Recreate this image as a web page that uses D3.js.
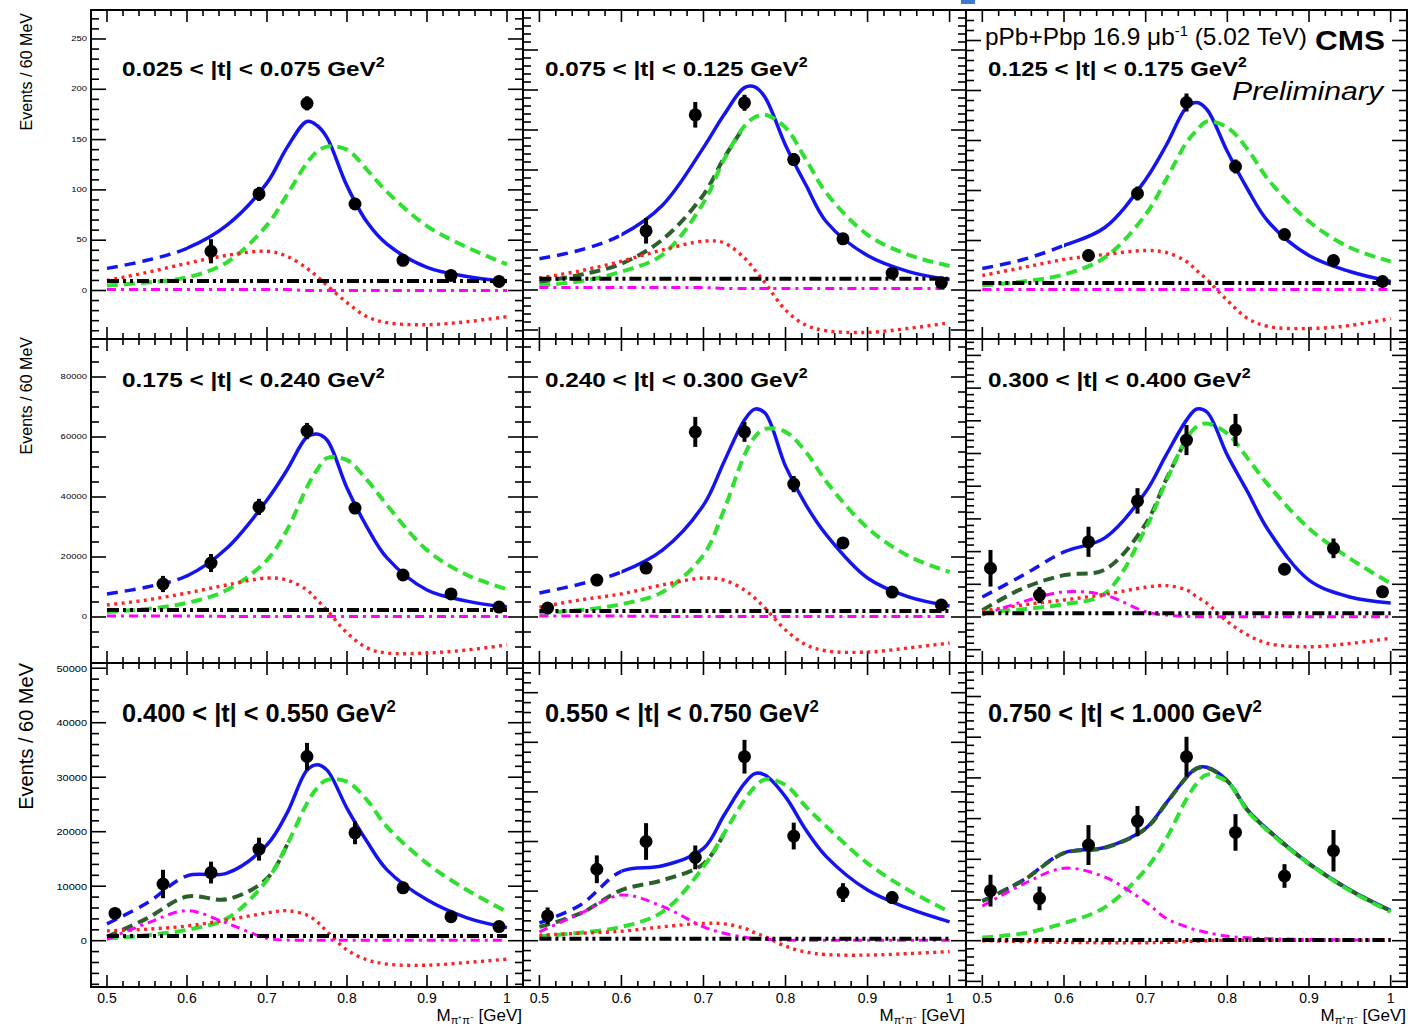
<!DOCTYPE html>
<html>
<head>
<meta charset="utf-8">
<script src="https://cdn.jsdelivr.net/npm/d3@7"></script>
<style>
  body { margin: 0; background: #fff; }
  svg { display: block; }
  text { font-family: "Liberation Sans", Arial, Helvetica, sans-serif; fill: #000; }
</style>
</head>
<body>
<svg id="chart" width="1408" height="1030"></svg>
<script>
// ---- data -------------------------------------------------------------
// Dipion mass bin centres (60 MeV bins) and the mass points at which the fit curves are sampled
const binCenters = [0.51, 0.57, 0.63, 0.69, 0.75, 0.81, 0.87, 0.93, 0.99];
const massGrid = [0.50, 0.55, 0.60, 0.65, 0.70, 0.725, 0.75, 0.7625, 0.775, 0.80, 0.825, 0.85, 0.90, 0.95, 1.00];

const tRanges = [
  "0.025 < |t| < 0.075", "0.075 < |t| < 0.125", "0.125 < |t| < 0.175",
  "0.175 < |t| < 0.240", "0.240 < |t| < 0.300", "0.300 < |t| < 0.400",
  "0.400 < |t| < 0.550", "0.550 < |t| < 0.750", "0.750 < |t| < 1.000"
];

// Events per 60 MeV bin, one row per |t| bin
const events = [
  [null, null, 39, 96, 186, 86, 30, 15, 9],
  [null, null, 74, 219, 234, 163, 64, 21, 9],
  [null, null, 35, 97, 188, 124, 56, 30, 9],
  [null, 11000, 18000, 36700, 62000, 36300, 14000, 7700, 3300],
  [3000, 12300, 16300, 61700, 61700, 44300, 24700, 8300, 4000],
  [14900, 6700, 23000, 35500, 54100, 57200, 14600, 21000, 7700],
  [5000, 10400, 12500, 16800, 33800, 19800, 9700, 4400, 2600],
  [5000, 14400, 20000, 16800, 37100, 21100, 9700, 8700, null],
  [12300, 10400, 23500, 29400, 45200, 26600, 15900, 22100, null]
];
const eventErrors = [
  [null, null, 12, 7, 7, 6, 4, 3, 3],
  [null, null, 16, 16, 10, 8, 5, 4, 4],
  [null, null, 6, 7, 9, 7, 4, 3, 3],
  [null, 2700, 3000, 2700, 2700, 1700, 1300, 1000, 1000],
  [1000, 1700, 1700, 5000, 3300, 2700, 1700, 1000, 1000],
  [5600, 2500, 4600, 3900, 4600, 4900, 1500, 3000, 1500],
  [600, 2600, 2000, 2100, 2500, 2100, 900, 600, 900],
  [1700, 2800, 3700, 2400, 3400, 2700, 1900, 1300, null],
  [3900, 2900, 4900, 3700, 4900, 4500, 2900, 5100, null]
];

// Fit components sampled on massGrid
const fitTotal = [
  [22, 30, 42, 65, 107, 142, 168, 164, 152, 104, 68, 46, 23, 14, 9],
  [39, 50, 69, 106, 178, 219, 253, 254, 241, 181, 131, 85, 43, 23, 13],
  [22, 31, 45, 63, 111, 145, 183, 188, 181, 139, 101, 69, 35, 19, 9],
  [7700, 10000, 13700, 23000, 39000, 49000, 60000, 61000, 59000, 43000, 30000, 19700, 9000, 5300, 3300],
  [8000, 11000, 15000, 22300, 37300, 51700, 65700, 69300, 68000, 50300, 37300, 27300, 13000, 6700, 3700],
  [6100, 12800, 19900, 24200, 38200, 49500, 60200, 63600, 62700, 49500, 38200, 26600, 11300, 6100, 4300],
  [3100, 6900, 11900, 12400, 17600, 23400, 31300, 32300, 31300, 24300, 18200, 13000, 7500, 4200, 2400],
  [3600, 7200, 14000, 15100, 18600, 25300, 31700, 33700, 33400, 29000, 22300, 16900, 10200, 6500, 3800],
  [9800, 14900, 21600, 22900, 27600, 33800, 40200, 42400, 42600, 39300, 32100, 27200, 19000, 12500, 7400]
];
const fitRho = [
  [5, 8, 13, 28, 65, 95, 127, 138, 143, 140, 120, 98, 64, 43, 26],
  [6, 11, 23, 44, 109, 163, 205, 216, 219, 203, 163, 121, 69, 44, 30],
  [5, 9, 16, 33, 76, 111, 148, 160, 169, 163, 141, 111, 69, 43, 29],
  [1700, 2700, 4700, 9000, 19000, 29000, 43300, 49000, 53000, 52300, 45700, 37300, 22300, 14000, 9300],
  [1300, 2300, 4300, 8300, 20700, 35700, 54000, 60000, 62700, 61700, 55000, 45000, 29700, 20300, 15000],
  [1400, 2400, 3900, 7200, 27100, 41400, 54600, 58200, 59200, 56100, 48500, 40400, 27100, 17900, 10300],
  [400, 1000, 2000, 4100, 11100, 17600, 25200, 28000, 29500, 29200, 25800, 20900, 14200, 9300, 5300],
  [900, 1600, 2800, 5800, 14900, 21600, 28400, 31000, 32500, 31400, 27000, 23000, 15600, 10200, 5800],
  [800, 1800, 4300, 8200, 17500, 25000, 34800, 38600, 40800, 39000, 31800, 26900, 18900, 12300, 7100]
];
// rho plus low-mass component, drawn up to where it joins the rho curve
const fitRhoPlusLow = [
  null,
  [10, 19, 33, 63, 119, 165, 205, null, null, null, null, null, null, null, null],
  null,
  null,
  null,
  [2100, 8800, 12800, 14500, 28500, 42000, 54600, null, null, null, null, null, null, null, null],
  [700, 4100, 8100, 7600, 11400, 17600, null, null, null, null, null, null, null, null, null],
  [2800, 5500, 10200, 12200, 15500, 21600, null, null, null, null, null, null, null, null, null],
  [9700, 14800, 21500, 22800, 27500, 33700, 40100, 42300, 42500, 39200, 32000, 27100, 18900, 12400, 7300]
];
const fitInterference = [
  [10, 18, 27, 35, 39, 34, 22, 14, 5, -12, -26, -32, -34, -31, -26],
  [15, 24, 36, 50, 61, 59, 40, 25, 9, -25, -44, -51, -53, -48, -41],
  [15, 23, 31, 36, 40, 38, 29, 20, 11, -10, -28, -36, -38, -35, -28],
  [4000, 5700, 8000, 10700, 13000, 12300, 9000, 5700, 2300, -5300, -10300, -12000, -12000, -11000, -9300],
  [3300, 5700, 7700, 10700, 13000, 12300, 9000, 6300, 3000, -4300, -9300, -11300, -11700, -10300, -8700],
  [1800, 3700, 5200, 6900, 9100, 9600, 8300, 6200, 4200, -1400, -5500, -8100, -9100, -8100, -6500],
  [1800, 2100, 2700, 3800, 5100, 5500, 4700, 3500, 1700, -1700, -3500, -4300, -4500, -4000, -3400],
  [1100, 1500, 1900, 2800, 3500, 3400, 2500, 1600, 800, -1100, -2300, -2800, -2900, -2600, -2200],
  [0, -200, -400, -500, -500, -400, -200, -100, 0, 100, 100, 100, 100, 100, 100]
];
const fitLowMass = [
  [1, 1, 1, 1, 1, 1, 0, 0, 0, 0, 0, 0, 0, 0, 0],
  [3, 3, 3, 3, 3, 2, 2, 2, 2, 2, 2, 2, 2, 2, 2],
  [1, 1, 1, 1, 1, 1, 1, 1, 1, 1, 1, 1, 1, 1, 1],
  [300, 300, 300, 200, 200, 200, 200, 200, 200, 200, 200, 200, 200, 200, 200],
  [300, 300, 300, 200, 200, 200, 200, 200, 200, 200, 200, 200, 200, 200, 200],
  [600, 4700, 7700, 6700, 1600, 600, 200, 100, 100, 100, 100, 100, 100, 100, 100],
  [250, 3200, 5500, 3200, 430, 120, 100, 100, 100, 100, 100, 100, 100, 100, 100],
  [1800, 5500, 9200, 6900, 2800, 1500, 700, 400, 300, 100, 100, 100, 100, 100, 100],
  [8500, 13900, 17800, 15600, 9500, 5500, 3400, 2600, 2000, 1100, 700, 500, 300, 200, 200]
];
const fitBackground = [9.5, 14, 7.5, 2300, 2000, 1150, 860, 380, 150];

// Axis ranges and ticks
const massDomain = [0.48, 1.02];
const xTickValues = [0.5, 0.6, 0.7, 0.8, 0.9, 1.0];
const xTickLabels = ["0.5", "0.6", "0.7", "0.8", "0.9", "1"];
const yDomains = [
  [-48.2, 278.8], [-61.25, 350], [-48.5, 280.5],
  [-15333, 92667], [-15333, 92667], [-14067, 85015],
  [-8496, 50958], [-9335, 55988], [-11376, 68231]
];
const yMajorStep = [50, 50, 50, 20000, 20000, 10000, 10000, 10000, 10000];
const yMinorDivisions = [5, 5, 5, 4, 4, 5, 5, 5, 5];

// ---- layout -----------------------------------------------------------
const columns = [[91, 523], [523, 966], [966, 1407]];
const rows = [[10, 339], [339, 663], [663, 987]];
const titleBaseline = [76, 387, 722];
const titleWidth = [263, 263, 274];
const titleFont = [21, 21, 25];

const svg = d3.select("#chart");
const defs = svg.append("defs");

// small link marker at the top edge
svg.append("rect").attr("x", 961).attr("y", 0).attr("width", 14).attr("height", 4).attr("fill", "#3a7bd5");

const styles = {
  total:   { stroke: "#1414f0", width: 3.5, dash: null },
  totalLo: { stroke: "#1414f0", width: 3.5, dash: "11,7" },
  rhoLow:  { stroke: "#2b5f2b", width: 4, dash: "11,6" },
  rho:     { stroke: "#30e030", width: 4, dash: "11,6" },
  interf:  { stroke: "#ff2222", width: 3.4, dash: "3,4.4" },
  low:     { stroke: "#ff00ff", width: 3, dash: "9,5,3,5" },
  bkg:     { stroke: "#000", width: 4, dash: "12,4,3,4,3,4" }
};

function fitToWidth(sel, x, yb, target) {
  const w = sel.node().getComputedTextLength();
  sel.attr("transform", `translate(${x},${yb}) scale(${target / w},1)`);
}

tRanges.forEach((label, i) => {
  const col = i % 3, row = Math.floor(i / 3);
  const [xl, xr] = columns[col];
  const [yt, yb] = rows[row];
  const x = d3.scaleLinear().domain(massDomain).range([xl, xr]);
  const y = d3.scaleLinear().domain(yDomains[i]).range([yb, yt]);
  const g = svg.append("g");

  // clip regions: full frame, below 0.6 GeV (extrapolated) and the fit range
  const clipAll = `clip-all-${i}`, clipLo = `clip-lo-${i}`, clipHi = `clip-hi-${i}`;
  defs.append("clipPath").attr("id", clipAll).append("rect")
    .attr("x", xl).attr("y", yt).attr("width", xr - xl).attr("height", yb - yt);
  defs.append("clipPath").attr("id", clipLo).append("rect")
    .attr("x", xl).attr("y", yt).attr("width", x(0.6) - xl).attr("height", yb - yt);
  defs.append("clipPath").attr("id", clipHi).append("rect")
    .attr("x", x(0.6)).attr("y", yt).attr("width", xr - x(0.6)).attr("height", yb - yt);

  // frame
  g.append("rect").attr("x", xl).attr("y", yt).attr("width", xr - xl).attr("height", yb - yt)
    .attr("fill", "none").attr("stroke", "#000").attr("stroke-width", 2);

  // ticks on all four sides
  const ticks = g.append("g").attr("stroke", "#000").attr("stroke-width", 1.6);
  d3.range(0, 28).map(k => +(0.48 + k * 0.02).toFixed(2)).forEach(v => {
    const px = x(v);
    if (px < xl + 2 || px > xr - 2) return;
    const major = Math.abs(v * 10 - Math.round(v * 10)) < 1e-6;
    const len = major ? 12 : 6;
    ticks.append("line").attr("x1", px).attr("x2", px).attr("y1", yb).attr("y2", yb - len);
    ticks.append("line").attr("x1", px).attr("x2", px).attr("y1", yt).attr("y2", yt + len);
  });
  const [lo, hi] = yDomains[i];
  const minorStep = yMajorStep[i] / yMinorDivisions[i];
  for (let k = Math.ceil(lo / minorStep); k * minorStep <= hi; k++) {
    const v = k * minorStep, py = y(v);
    if (py > yb - 2 || py < yt + 2) continue;
    const major = k % yMinorDivisions[i] === 0;
    const len = major ? 15 : 8;
    ticks.append("line").attr("x1", xl).attr("x2", xl + len).attr("y1", py).attr("y2", py);
    ticks.append("line").attr("x1", xr).attr("x2", xr - len).attr("y1", py).attr("y2", py);
    if (col === 0 && major && v >= 0) {
      const fs = row === 2 ? 11 : 9.5;
      g.append("text").attr("text-anchor", "end").attr("dominant-baseline", "central")
        .attr("font-size", fs)
        .attr("transform", `translate(${xl - 4},${py}) scale(1,${row === 2 ? 0.9 : 0.7})`)
        .text(d3.format("d")(v));
    }
  }

  // curves
  const line = d3.line().defined(d => d[1] !== null)
    .x(d => x(d[0])).y(d => y(d[1])).curve(d3.curveCatmullRom.alpha(0.5));
  const draw = (vals, st, clip) => {
    if (!vals) return;
    g.append("path").attr("d", line(massGrid.map((m, k) => [m, vals[k]])))
      .attr("fill", "none").attr("stroke", st.stroke).attr("stroke-width", st.width)
      .attr("stroke-dasharray", st.dash).attr("clip-path", `url(#${clip})`);
  };
  draw(fitTotal[i], styles.totalLo, clipLo);
  draw(fitTotal[i], styles.total, clipHi);
  draw(fitRhoPlusLow[i], styles.rhoLow, clipAll);
  draw(fitRho[i], styles.rho, clipAll);
  draw(fitInterference[i], styles.interf, clipAll);
  draw(fitLowMass[i], styles.low, clipAll);
  g.append("line")
    .attr("x1", x(massGrid[0])).attr("x2", x(massGrid[massGrid.length - 1]))
    .attr("y1", y(fitBackground[i])).attr("y2", y(fitBackground[i]))
    .attr("stroke", styles.bkg.stroke).attr("stroke-width", styles.bkg.width)
    .attr("stroke-dasharray", styles.bkg.dash);

  // data points with statistical error bars
  const pts = binCenters.map((m, k) => ({ m, v: events[i][k], e: eventErrors[i][k] })).filter(d => d.v !== null);
  g.selectAll(null).data(pts).enter().append("line")
    .attr("x1", d => x(d.m)).attr("x2", d => x(d.m))
    .attr("y1", d => y(d.v - d.e)).attr("y2", d => y(d.v + d.e))
    .attr("stroke", "#000").attr("stroke-width", 4);
  g.selectAll(null).data(pts).enter().append("circle")
    .attr("cx", d => x(d.m)).attr("cy", d => y(d.v)).attr("r", 6.5).attr("fill", "#000");

  // |t| range title
  const tx = xl + (col === 0 ? 31 : 22);
  const title = g.append("text").attr("font-weight", "bold").attr("font-size", titleFont[row]);
  title.append("tspan").text(label + " GeV");
  title.append("tspan").attr("font-size", titleFont[row] * 0.66).attr("dy", -titleFont[row] * 0.42).text("2");
  fitToWidth(title, tx, titleBaseline[row], titleWidth[row] - (col === 2 && row === 0 ? 4 : 0));

  // bottom row: mass tick labels and axis title
  if (row === 2) {
    xTickValues.forEach((v, k) => {
      g.append("text").attr("x", x(v)).attr("y", 1003).attr("text-anchor", "middle")
        .attr("font-size", 14).text(xTickLabels[k]);
    });
    const t = g.append("text").attr("x", xr - 1).attr("y", 1021).attr("text-anchor", "end").attr("font-size", 17);
    t.append("tspan").text("M");
    t.append("tspan").attr("font-size", 11).attr("dy", 3).text("π⁺π⁻");
    t.append("tspan").attr("dy", -3).text(" [GeV]");
  }
});

// y-axis titles
[[13, 16, 32], [337, 16, 32], [663, 20, 33]].forEach(([top, fs, bx]) => {
  svg.append("text").attr("transform", `translate(${bx},${top}) rotate(-90)`)
    .attr("text-anchor", "end").attr("font-size", fs).text("Events / 60 MeV");
});

// luminosity / experiment labels
const lumi = svg.append("text").attr("font-size", 23);
lumi.append("tspan").text("pPb+Pbp 16.9 μb");
lumi.append("tspan").attr("font-size", 14).attr("dy", -9).text("-1");
lumi.append("tspan").attr("dy", 9).text(" (5.02 TeV)");
fitToWidth(lumi, 985, 45, 322);
svg.append("text").attr("x", 1315).attr("y", 50).attr("font-size", 27).attr("font-weight", "bold")
  .attr("textLength", 70).attr("lengthAdjust", "spacingAndGlyphs").text("CMS");
svg.append("text").attr("x", 1232).attr("y", 100).attr("font-size", 25).attr("font-style", "italic")
  .attr("textLength", 151).attr("lengthAdjust", "spacingAndGlyphs").text("Preliminary");
</script>
</body>
</html>
